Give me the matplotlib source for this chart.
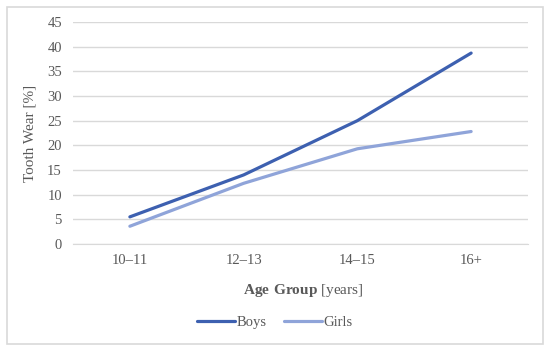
import matplotlib
matplotlib.use("Agg")
import matplotlib.pyplot as plt
from matplotlib.patches import Rectangle

# data
age_groups = ["10\u201311", "12\u201313", "14\u201315", "16+"]
boys = [5.5, 14.0, 25.0, 38.7]
girls = [3.6, 12.3, 19.3, 22.8]
y_ticks = list(range(0, 50, 5))

text_grey = "#595959"
grid_grey = "#d9d9d9"
boys_color = "#3d60b0"
girls_color = "#8fa4d9"

plt.rcParams["font.family"] = ["Liberation Serif", "DejaVu Serif"]
plt.rcParams["mathtext.fontset"] = "custom"
plt.rcParams["mathtext.rm"] = "Liberation Serif"
plt.rcParams["mathtext.bf"] = "Liberation Serif:bold"

fig = plt.figure(figsize=(5.5, 3.51), dpi=100)
fig.patches.append(Rectangle((7 / 550, 7 / 351), 536 / 550, 337 / 351,
                             transform=fig.transFigure, fill=False,
                             edgecolor=grid_grey, linewidth=1.2))

ax = fig.add_axes([73 / 550, 1 - 244 / 351, 455 / 550, 222 / 351])
x = range(len(age_groups))
ax.plot(x, boys, color=boys_color, linewidth=2.3, label="Boys", solid_capstyle="round")
ax.plot(x, girls, color=girls_color, linewidth=2.3, label="Girls", solid_capstyle="round")

ax.set_xlim(-0.5, len(age_groups) - 0.5)
ax.set_ylim(0, 45)
ax.set_yticks(y_ticks)
ax.set_xticks(list(x))
ax.set_xticklabels(age_groups)
ax.yaxis.grid(True, color=grid_grey, linewidth=1)
ax.set_axisbelow(True)
for side in ["top", "right", "left"]:
    ax.spines[side].set_visible(False)
ax.spines["bottom"].set_color(grid_grey)
ax.tick_params(length=0, colors=text_grey, labelsize=10.5)
ax.tick_params(axis="y", pad=8)
ax.tick_params(axis="x", pad=7)

ax.set_ylabel("Tooth Wear [%]", color=text_grey, fontsize=11, labelpad=8)
ax.set_xlabel(r"$\mathbf{Age\ Group}$ [years]", color=text_grey, fontsize=11, labelpad=9)
ax.xaxis.set_label_coords((303 - 73) / 455, -0.17)

leg = fig.legend(loc="center", bbox_to_anchor=(275 / 550, 1 - 322 / 351), ncol=2,
                 frameon=False, fontsize=10.5, handlelength=2.6, handletextpad=0.1,
                 columnspacing=1.2)
for t in leg.get_texts():
    t.set_color(text_grey)

fig.savefig("out.png", dpi=100)
